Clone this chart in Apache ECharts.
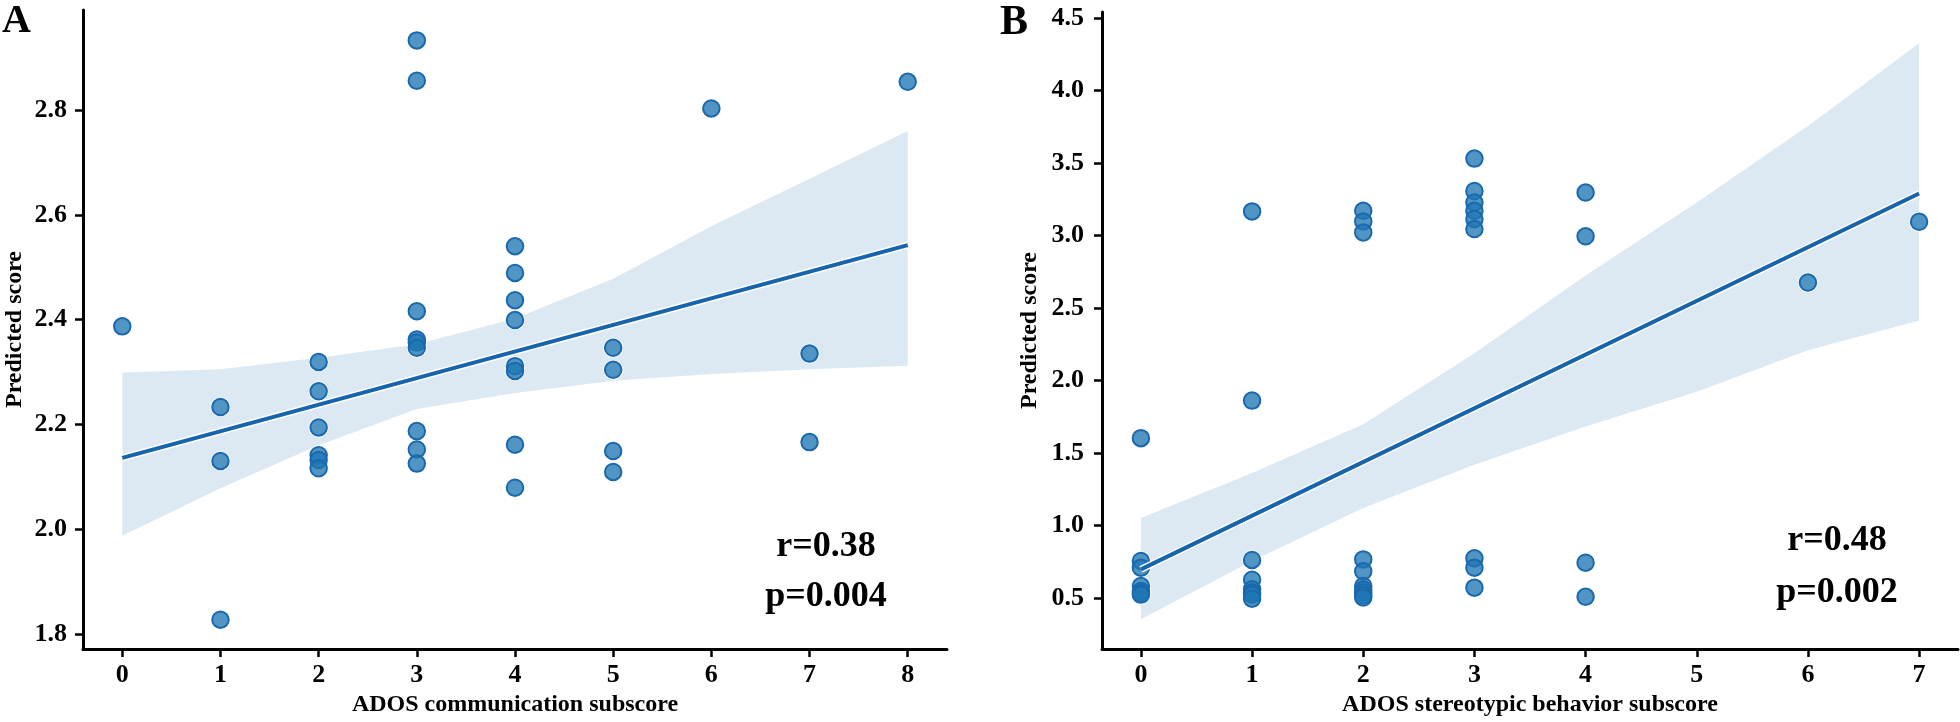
<!DOCTYPE html>
<html><head><meta charset="utf-8">
<script src="https://cdn.jsdelivr.net/npm/echarts@6/dist/echarts.min.js"></script>
<style>html,body{margin:0;padding:0;background:#fff}#c{width:1960px;height:722px}</style>
</head><body><div id="c"></div>
<script>
// ---------- Panel A: ADOS communication subscore ----------
const commX = [0, 1,1,1, 2,2,2,2,2,2, 3,3,3,3,3,3,3,3,3, 4,4,4,4,4,4,4,4, 5,5,5,5, 6, 7,7, 8];
const commY = [2.387, 2.233,2.130,1.827, 2.319,2.263,2.194,2.141,2.132,2.116,
               2.933,2.856,2.416,2.362,2.356,2.346,2.187,2.152,2.125,
               2.540,2.489,2.437,2.399,2.311,2.302,2.161,2.079,
               2.346,2.304,2.149,2.109, 2.803, 2.335,2.166, 2.854];
const commFitX = [0, 8];
const commFitY = [2.136, 2.542];
const commBandX = [0, 1, 2, 3, 4, 5, 6, 7, 8];
const commBandUpper = [2.299, 2.305, 2.327, 2.353, 2.402, 2.478, 2.578, 2.669, 2.760];
const commBandLower = [1.987, 2.078, 2.160, 2.229, 2.260, 2.283, 2.296, 2.305, 2.312];
const commXTicks = [0, 1, 2, 3, 4, 5, 6, 7, 8];
const commYTicks = [1.8, 2.0, 2.2, 2.4, 2.6, 2.8];
const commStats = ['r=0.38', 'p=0.004'];

// ---------- Panel B: ADOS stereotypic behavior subscore ----------
const sterX = [0,0,0,0,0,0,0, 1,1,1,1,1,1,1,1, 2,2,2,2,2,2,2,2,2,2, 3,3,3,3,3,3,3,3,3, 4,4,4,4, 6, 7];
const sterY = [1.604,0.757,0.711,0.585,0.550,0.535,0.525,
               3.168,1.863,0.764,0.628,0.562,0.540,0.525,0.497,
               3.172,3.099,3.023,0.768,0.686,0.585,0.560,0.540,0.520,0.505,
               3.532,3.309,3.229,3.172,3.115,3.046,0.775,0.711,0.573,
               3.298,2.996,0.745,0.510, 2.677, 3.096];
const sterFitX = [0, 7];
const sterFitY = [0.699, 3.291];
const sterBandX = [0, 1, 2, 3, 4, 5, 6, 7];
const sterBandUpper = [1.054, 1.363, 1.700, 2.190, 2.725, 3.229, 3.756, 4.328];
const sterBandLower = [0.356, 0.757, 1.123, 1.420, 1.684, 1.924, 2.210, 2.416];
const sterXTicks = [0, 1, 2, 3, 4, 5, 6, 7];
const sterYTicks = [0.5, 1.0, 1.5, 2.0, 2.5, 3.0, 3.5, 4.0, 4.5];
const sterStats = ['r=0.48', 'p=0.002'];

const FONT = 'Liberation Serif, Times New Roman, serif';
const txt = (size) => ({ fontFamily: FONT, fontWeight: 'bold', fontSize: size, color: '#000' });

function xAxisDef(grid, min, max, ticks, name) {
  return {
    type: 'value', gridIndex: grid, min: min, max: max,
    name: name, nameLocation: 'middle', nameGap: 44, nameTextStyle: txt(24),
    axisLine: { show: true, onZero: false, lineStyle: { color: '#000', width: 3 } },
    axisTick: { show: true, length: 8, lineStyle: { color: '#000', width: 2.5 }, customValues: ticks },
    axisLabel: Object.assign({ customValues: ticks, margin: 13, formatter: v => String(v) }, txt(26)),
    splitLine: { show: false }
  };
}
function yAxisDef(grid, min, max, ticks, gap, margin) {
  return {
    type: 'value', gridIndex: grid, min: min, max: max,
    name: 'Predicted score', nameLocation: 'middle', nameGap: gap, nameRotate: 90, nameTextStyle: txt(24),
    axisLine: { show: true, onZero: false, lineStyle: { color: '#000', width: 3 } },
    axisTick: { show: true, length: 8, lineStyle: { color: '#000', width: 2.5 }, customValues: ticks },
    axisLabel: Object.assign({ customValues: ticks, margin: margin, formatter: v => v.toFixed(1) }, txt(26)),
    splitLine: { show: false }
  };
}
function zipPts(xs, ys) { return xs.map((x, i) => [x, ys[i]]); }

function panelSeries(idx, xs, ys, fx, fy, bx, bu, bl) {
  const pts = zipPts(xs, ys);
  return [
    {
      type: 'custom', xAxisIndex: idx, yAxisIndex: idx, z: 1, silent: true,
      data: [[bx[0], bu[0]]],
      renderItem: function (params, api) {
        const up = bx.map((x, i) => api.coord([x, bu[i]]));
        const lo = bx.map((x, i) => api.coord([x, bl[i]])).reverse();
        return { type: 'polygon', shape: { points: up.concat(lo) }, style: { fill: '#dce9f3' } };
      }
    },
    {
      type: 'scatter', xAxisIndex: idx, yAxisIndex: idx, z: 2, silent: true,
      data: pts, symbolSize: 20, itemStyle: { color: '#ffffff', opacity: 1 }
    },
    {
      type: 'scatter', xAxisIndex: idx, yAxisIndex: idx, z: 3,
      data: pts, symbolSize: 16.5,
      itemStyle: { color: 'rgba(31,119,180,0.78)', borderColor: '#1a68ad', borderWidth: 2, opacity: 1 }
    },
    {
      type: 'line', xAxisIndex: idx, yAxisIndex: idx, z: 4, silent: true,
      data: zipPts(fx, fy), symbol: 'none', lineStyle: { color: '#ffffff', width: 7 }
    },
    {
      type: 'line', xAxisIndex: idx, yAxisIndex: idx, z: 5,
      data: zipPts(fx, fy), symbol: 'none', lineStyle: { color: '#1664ab', width: 4 }
    }
  ];
}

const chart = echarts.init(document.getElementById('c'), null, { renderer: 'canvas' });
chart.setOption({
  animation: false,
  backgroundColor: '#ffffff',
  grid: [
    { left: 83, top: 10, width: 864, height: 643 },
    { left: 1102, top: 12, width: 856, height: 640 }
  ],
  xAxis: [
    xAxisDef(0, -0.4, 8.4, commXTicks, 'ADOS communication subscore'),
    xAxisDef(1, -0.35, 7.35, sterXTicks, 'ADOS stereotypic behavior subscore')
  ],
  yAxis: [
    yAxisDef(0, 1.771, 2.991, commYTicks, 56, 16),
    yAxisDef(1, 0.15, 4.543, sterYTicks, 60, 18)
  ],
  series: [].concat(
    panelSeries(0, commX, commY, commFitX, commFitY, commBandX, commBandUpper, commBandLower),
    panelSeries(1, sterX, sterY, sterFitX, sterFitY, sterBandX, sterBandUpper, sterBandLower)
  ),
  graphic: [
    { type: 'text', left: 2, top: 2, style: { text: 'A', font: 'bold 40px ' + FONT, fill: '#000' } },
    { type: 'text', left: 1000, top: 2, style: { text: 'B', font: 'bold 42px ' + FONT, fill: '#000' } },
    { type: 'text', x: 826, y: 547, style: { text: commStats[0], font: 'bold 36px ' + FONT, fill: '#000', align: 'center', verticalAlign: 'middle' } },
    { type: 'text', x: 826, y: 597, style: { text: commStats[1], font: 'bold 36px ' + FONT, fill: '#000', align: 'center', verticalAlign: 'middle' } },
    { type: 'text', x: 1837, y: 541, style: { text: sterStats[0], font: 'bold 36px ' + FONT, fill: '#000', align: 'center', verticalAlign: 'middle' } },
    { type: 'text', x: 1837, y: 593, style: { text: sterStats[1], font: 'bold 36px ' + FONT, fill: '#000', align: 'center', verticalAlign: 'middle' } }
  ]
});
</script>
</body></html>
